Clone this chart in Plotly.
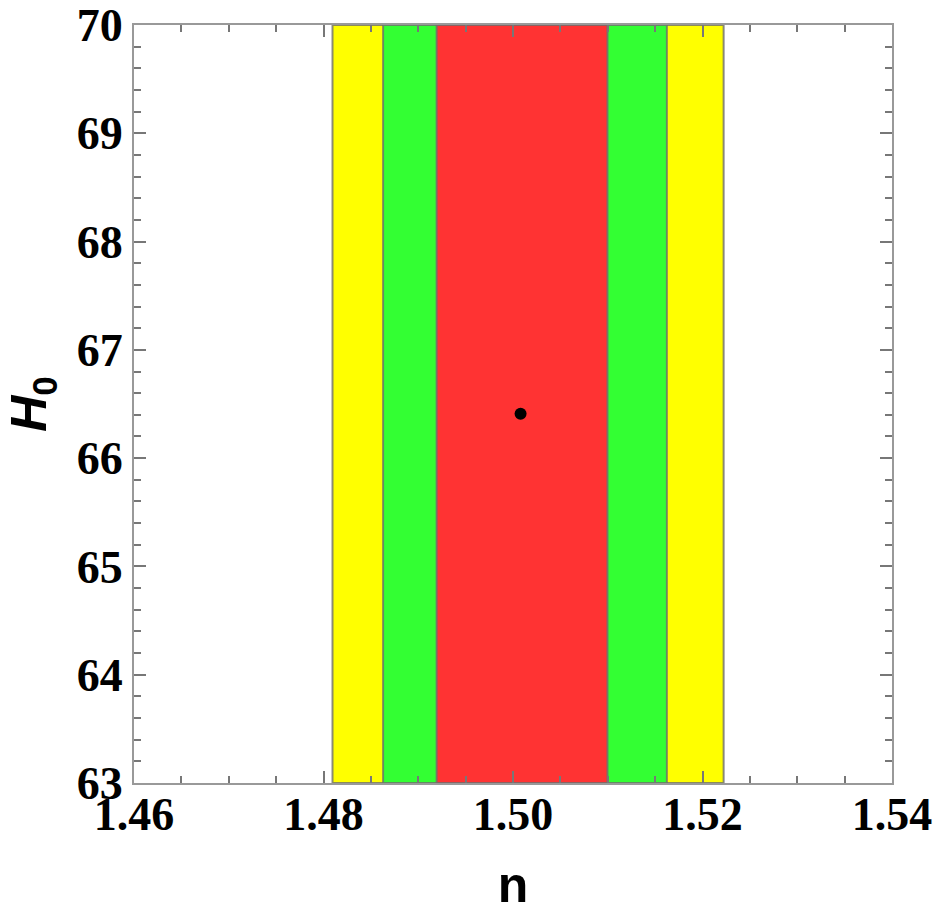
import plotly.graph_objects as go

# Confidence bands in n (outermost first)
band_names = ["3σ", "2σ", "1σ"]
band_lo = [1.48095, 1.48629, 1.49194]
band_hi = [1.52223, 1.51624, 1.50997]
band_colors = ["#FFFF00", "#33FF33", "#FF3333"]

h0_range = [63, 70]
n_range = [1.46, 1.54]

best_n = [1.5008]
best_h0 = [66.41]

fig = go.Figure()
for name, lo, hi, col in zip(band_names, band_lo, band_hi, band_colors):
    fig.add_trace(go.Scatter(
        x=[lo, hi, hi, lo, lo],
        y=[h0_range[0], h0_range[0], h0_range[1], h0_range[1], h0_range[0]],
        fill="toself", fillcolor=col, mode="lines",
        line=dict(color="rgba(110,110,110,0.8)", width=2),
        name=name, hoverinfo="skip", showlegend=False,
    ))

fig.add_trace(go.Scatter(
    x=best_n, y=best_h0, mode="markers",
    marker=dict(color="black", size=12), showlegend=False,
))

tickfont = dict(family="Liberation Serif", size=46, color="black", weight="bold")
axis_common = dict(
    showgrid=False, zeroline=False, showline=True, linecolor="#999999", linewidth=2,
    mirror="allticks", ticks="inside", ticklen=12, tickcolor="#777777", tickwidth=1.5,
    tickfont=tickfont, automargin=False,
)

fig.update_layout(
    width=938, height=923,
    margin=dict(l=134, r=46, t=25, b=140),
    plot_bgcolor="white", paper_bgcolor="white",
    xaxis=dict(
        range=n_range, tick0=1.46, dtick=0.02, tickformat=".2f",
        ticklabelstandoff=-10,
        minor=dict(dtick=0.005, ticks="inside", ticklen=7, tickcolor="#777777"),
        title=dict(text="<b>n</b>", font=dict(family="Liberation Sans", size=50, color="black"), standoff=28),
        **axis_common,
    ),
    yaxis=dict(
        range=h0_range, tick0=63, dtick=1,
        minor=dict(dtick=0.2, ticks="inside", ticklen=7, tickcolor="#777777"),
        title=dict(text="<b><i>H</i><sub>0</sub></b>", font=dict(family="Liberation Sans", size=50, color="black"), standoff=14),
        **axis_common,
    ),
)

fig.write_html("out.html")
